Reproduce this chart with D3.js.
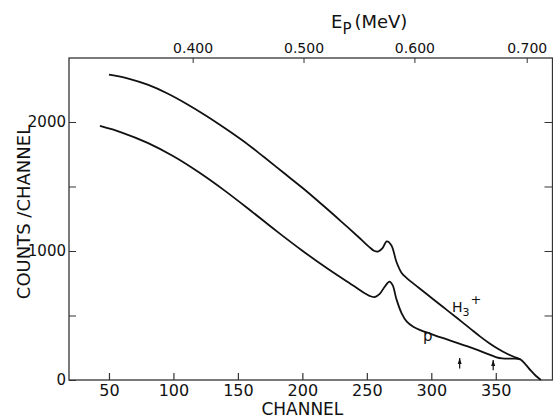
<!DOCTYPE html>
<html>
<head>
<meta charset="utf-8">
<script src="https://cdn.jsdelivr.net/npm/d3@7"></script>
<style>
  body { margin: 0; background: #fff; }
  text { font-family: "DejaVu Sans", sans-serif; fill: #111; }
</style>
</head>
<body>
<div id="chart"></div>
<script>
// H3+ spectrum (upper curve)
const channelsH3 = [50, 65, 80, 95, 110, 125, 140, 155, 170, 185, 200, 215, 230, 245, 252, 256, 259, 262, 265.5, 269, 273, 277, 281, 290, 300, 310, 320, 330, 338, 345, 352, 358, 364, 369, 373, 377, 381, 385];
const countsH3 = [2367, 2337, 2289, 2223, 2142, 2051, 1952, 1847, 1730, 1610, 1490, 1362, 1230, 1095, 1030, 1000, 997, 1020, 1075, 1045, 915, 830, 790, 717, 638, 559, 480, 400, 336, 285, 240, 207, 180, 160, 122, 75, 33, 0];

// proton spectrum (lower curve)
const channelsP = [43, 60, 80, 100, 120, 140, 160, 180, 200, 220, 240, 248, 252, 256, 260, 264, 267.5, 270, 273, 277, 281, 286, 292, 299, 308, 320, 333, 343, 350, 355, 360, 365, 369];
const countsP = [1969, 1918, 1838, 1734, 1608, 1466, 1312, 1154, 1002, 860, 728, 675, 652, 643, 668, 725, 762, 735, 625, 517, 452, 413, 385, 360, 328, 288, 243, 205, 178, 167, 165, 166, 160];

// axis ticks
const channelTicks = [50, 100, 150, 200, 250, 300, 350];
const countTicks = [0, 500, 1000, 1500, 2000];
const countLabels = [0, 1000, 2000];
const energyTicks = [0.4, 0.5, 0.6, 0.7];
const energyChannels = [114.9, 200.9, 286.9, 374.0];

// arrow markers (channel, from count, to count)
const arrowChannels = [322, 348];
const arrowFrom = [90, 75];
const arrowTo = [170, 155];

const W = 553, H = 418;
const margin = {top: 58, right: 0.5, bottom: 38, left: 69};
const width = W - margin.left - margin.right,
      height = H - margin.top - margin.bottom;

const svg = d3.select("#chart").append("svg")
    .attr("width", W).attr("height", H)
  .append("g")
    .attr("transform", "translate(" + margin.left + "," + margin.top + ")");

const x = d3.scaleLinear().domain([19, 394]).range([0, width]);
const y = d3.scaleLinear().domain([0, 2496]).range([height, 0]);
// energy calibration: MeV -> pixel through the channel scale
const xE = d3.scaleLinear().domain(energyTicks).range(energyChannels.map(x));

// frame
svg.append("rect")
  .attr("x", 0).attr("y", 0)
  .attr("width", width).attr("height", height)
  .attr("fill", "none")
  .attr("stroke", "#333")
  .attr("stroke-width", 1.3);

// bottom axis (ticks inward)
const xAxis = svg.append("g")
  .attr("transform", "translate(0," + height + ")")
  .call(d3.axisBottom(x).tickValues(channelTicks).tickSizeInner(-7).tickSizeOuter(0).tickPadding(5).tickFormat(d3.format("d")));
xAxis.select(".domain").remove();
xAxis.selectAll("text").style("font-size", "16px");
xAxis.selectAll("line").attr("stroke", "#333").attr("stroke-width", 1.2);

// top axis (energy)
const topAxis = svg.append("g")
  .call(d3.axisTop(xE).tickValues(energyTicks).tickSizeInner(-5).tickSizeOuter(0).tickPadding(5).tickFormat(d3.format(".3f")));
topAxis.select(".domain").remove();
topAxis.selectAll("text").style("font-size", "14px");
topAxis.selectAll("line").attr("stroke", "#333");

// left axis
const yAxis = svg.append("g")
  .call(d3.axisLeft(y).tickValues(countTicks).tickSizeInner(-7).tickSizeOuter(0).tickPadding(3)
    .tickFormat(d => countLabels.includes(d) ? d : ""));
yAxis.select(".domain").remove();
yAxis.selectAll("text").style("font-size", "15px");
yAxis.selectAll("line").attr("stroke", "#333");

// right axis ticks
const yAxisR = svg.append("g")
  .attr("transform", "translate(" + width + ",0)")
  .call(d3.axisRight(y).tickValues(countTicks.filter(d => d > 0)).tickSizeInner(-8).tickSizeOuter(0).tickFormat(""));
yAxisR.select(".domain").remove();
yAxisR.selectAll("line").attr("stroke", "#333");

// curves
const line = d3.line()
  .x(d => x(d[0]))
  .y(d => y(d[1]))
  .curve(d3.curveCatmullRom.alpha(0.5));

svg.append("path")
  .datum(d3.zip(channelsH3, countsH3))
  .attr("fill", "none")
  .attr("stroke", "#111")
  .attr("stroke-width", 1.8)
  .attr("d", line);

svg.append("path")
  .datum(d3.zip(channelsP, countsP))
  .attr("fill", "none")
  .attr("stroke", "#111")
  .attr("stroke-width", 1.8)
  .attr("d", line);

// arrows
arrowChannels.forEach(function(c, i) {
  svg.append("line")
    .attr("x1", x(c)).attr("x2", x(c))
    .attr("y1", y(arrowFrom[i])).attr("y2", y(arrowTo[i]))
    .attr("stroke", "#111").attr("stroke-width", 1.2);
  const tx = x(c), ty = y(arrowTo[i]);
  svg.append("path")
    .attr("d", "M" + tx + "," + ty + " L" + (tx - 2) + "," + (ty + 6) + " L" + (tx + 2) + "," + (ty + 6) + " Z")
    .attr("fill", "#111");
});

// curve labels
const h3 = svg.append("text")
  .attr("x", x(316)).attr("y", y(525))
  .style("font-size", "14px");
h3.append("tspan").text("H");
h3.append("tspan").attr("dy", 4).style("font-size", "11px").text("3");
h3.append("tspan").attr("dy", -12).attr("dx", 1).style("font-size", "13px").text("+");

svg.append("text")
  .attr("x", x(293.5)).attr("y", y(300))
  .style("font-size", "15px")
  .text("p");

// axis titles
svg.append("text")
  .attr("text-anchor", "middle")
  .attr("x", x(200))
  .attr("y", height + 35)
  .style("font-size", "17px")
  .text("CHANNEL");

svg.append("text")
  .attr("text-anchor", "middle")
  .attr("transform", "translate(" + (-39) + "," + (212 - margin.top) + ") rotate(-90)")
  .style("font-size", "18px")
  .text("COUNTS /CHANNEL");

const et = svg.append("text")
  .attr("x", 331 - margin.left)
  .attr("y", 28 - margin.top)
  .style("font-size", "18px");
et.append("tspan").text("E");
et.append("tspan").attr("dy", 6).style("font-size", "15px").text("P");
et.append("tspan").attr("dy", -6).attr("dx", 3).text("(MeV)");
</script>
</body>
</html>
